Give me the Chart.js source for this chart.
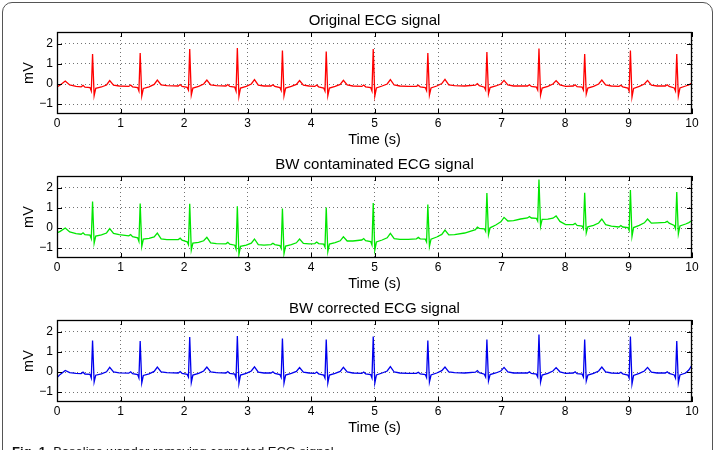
<!DOCTYPE html>
<html>
<head>
<meta charset="utf-8">
<script src="https://cdn.jsdelivr.net/npm/chart.js@4.4.1/dist/chart.umd.min.js"></script>
<style>
  html, body { margin:0; padding:0; background:#fff; }
  body { width:719px; height:450px; overflow:hidden; position:relative; font-family:"Liberation Sans", Arial, sans-serif; }
  canvas { position:absolute; left:0; }
  #frame { position:absolute; left:2px; top:2px; width:711px; height:480px; border:1px solid #555; border-radius:10px; box-sizing:border-box; }
  #caption { position:absolute; left:12px; top:445px; font-size:13px; line-height:13px; color:#111; white-space:nowrap; }
</style>
</head>
<body>
<div id="frame"></div>
<canvas id="c1" width="719" height="150" style="top:0px"></canvas>
<canvas id="c2" width="719" height="150" style="top:144px"></canvas>
<canvas id="c3" width="719" height="150" style="top:288px"></canvas>
<div id="caption"><b>Fig. 1</b>&nbsp; Baseline wander removing corrected ECG signal</div>
<script>
// ---- data ----
const titles = ["Original ECG signal", "BW contaminated ECG signal", "BW corrected ECG signal"];
const xTicks = [0,1,2,3,4,5,6,7,8,9,10];
const yTicks = [-1,0,1,2];

const time = [
0.00,0.05,0.13,0.20,0.30,
0.38,0.41,0.44,0.52,0.54,0.56,0.585,0.61,0.70,0.78,0.83,0.89,0.98,
1.13,1.16,1.19,1.27,1.29,1.31,1.335,1.36,1.45,1.53,1.58,1.64,1.73,
1.91,1.94,1.97,2.05,2.07,2.09,2.115,2.14,2.23,2.31,2.36,2.42,2.51,
2.66,2.69,2.72,2.80,2.82,2.84,2.865,2.89,2.98,3.06,3.11,3.17,3.26,
3.37,3.40,3.43,3.51,3.53,3.55,3.575,3.60,3.69,3.77,3.82,3.88,3.97,
4.06,4.09,4.12,4.20,4.22,4.24,4.265,4.29,4.38,4.46,4.51,4.57,4.66,
4.80,4.83,4.86,4.94,4.96,4.98,5.005,5.03,5.12,5.20,5.25,5.31,5.40,5.53,
5.66,5.69,5.72,5.80,5.82,5.84,5.865,5.89,5.98,6.06,6.11,6.17,6.26,6.42,
6.59,6.62,6.65,6.73,6.75,6.77,6.795,6.82,6.91,6.99,7.04,7.10,7.19,7.30,
7.41,7.44,7.47,7.55,7.57,7.59,7.615,7.64,7.73,7.81,7.86,7.92,8.01,
8.13,8.16,8.19,8.27,8.29,8.31,8.335,8.36,8.45,8.53,8.58,8.64,8.73,
8.85,8.88,8.91,8.99,9.01,9.03,9.055,9.08,9.17,9.25,9.30,9.36,9.45,
9.58,9.61,9.64,9.72,9.74,9.76,9.785,9.81,9.90,9.95,10.00
];

const original = [
-0.15,-0.05,0.15,-0.05,-0.12,
-0.14,-0.07,-0.16,-0.18,-0.35,1.50,-0.58,-0.22,-0.15,-0.05,0.17,-0.06,-0.10,
-0.12,-0.05,-0.14,-0.18,-0.35,1.55,-0.60,-0.22,-0.14,-0.02,0.20,-0.05,-0.08,
-0.10,-0.03,-0.12,-0.17,-0.30,1.75,-0.55,-0.20,-0.12,0.00,0.20,-0.05,-0.08,
-0.10,-0.03,-0.12,-0.16,-0.35,1.80,-0.62,-0.20,-0.12,0.00,0.22,-0.06,-0.10,
-0.10,-0.04,-0.12,-0.18,-0.32,1.67,-0.58,-0.20,-0.12,-0.02,0.17,-0.06,-0.10,
-0.12,-0.05,-0.14,-0.20,-0.35,1.63,-0.58,-0.20,-0.12,-0.02,0.18,-0.05,-0.10,
-0.12,-0.05,-0.14,-0.18,-0.35,1.75,-0.60,-0.20,-0.10,0.00,0.22,-0.05,-0.10,-0.12,
-0.12,-0.06,-0.14,-0.18,-0.33,1.55,-0.55,-0.20,-0.10,0.02,0.23,-0.04,-0.08,-0.10,
-0.06,0.02,-0.08,-0.16,-0.30,1.60,-0.50,-0.18,-0.10,0.00,0.18,-0.05,-0.10,-0.10,
-0.10,-0.04,-0.12,-0.16,-0.30,1.78,-0.55,-0.20,-0.12,0.00,0.17,-0.04,-0.12,
-0.10,-0.04,-0.13,-0.16,-0.30,1.50,-0.50,-0.20,-0.12,0.00,0.20,-0.05,-0.10,
-0.12,-0.06,-0.14,-0.20,-0.35,1.67,-0.65,-0.22,-0.12,0.00,0.18,-0.06,-0.10,
-0.10,-0.04,-0.12,-0.20,-0.35,1.50,-0.60,-0.20,-0.10,-0.04,0.05
];

const contaminated = [
-0.25,-0.17,0.00,-0.20,-0.28,
-0.31,-0.24,-0.33,-0.36,-0.53,1.32,-0.76,-0.40,-0.34,-0.25,-0.03,-0.27,-0.33,
-0.39,-0.33,-0.43,-0.49,-0.67,1.23,-0.93,-0.56,-0.52,-0.45,-0.26,-0.54,-0.58,
-0.58,-0.51,-0.61,-0.69,-0.83,1.21,-1.10,-0.76,-0.72,-0.64,-0.47,-0.74,-0.78,
-0.79,-0.72,-0.81,-0.86,-1.05,1.09,-1.33,-0.92,-0.86,-0.76,-0.55,-0.83,-0.86,
-0.83,-0.76,-0.83,-0.88,-1.02,0.97,-1.28,-0.90,-0.83,-0.74,-0.55,-0.77,-0.79,
-0.78,-0.70,-0.78,-0.81,-0.95,1.03,-1.18,-0.80,-0.73,-0.64,-0.44,-0.65,-0.65,
-0.60,-0.53,-0.63,-0.68,-0.85,1.25,-1.10,-0.70,-0.60,-0.49,-0.27,-0.53,-0.57,-0.57,
-0.54,-0.47,-0.54,-0.56,-0.70,1.18,-0.92,-0.56,-0.45,-0.32,-0.10,-0.34,-0.33,-0.25,
-0.08,0.04,-0.02,-0.04,-0.17,1.75,-0.33,0.01,0.15,0.31,0.53,0.35,0.37,0.45,
0.50,0.57,0.50,0.48,0.35,2.43,0.09,0.43,0.44,0.49,0.60,0.33,0.17,
0.17,0.23,0.13,0.10,-0.04,1.76,-0.24,0.06,0.13,0.25,0.45,0.17,0.09,
0.05,0.12,0.05,0.02,-0.12,1.90,-0.42,0.02,0.13,0.26,0.45,0.24,0.26,
0.28,0.33,0.24,0.13,-0.03,1.80,-0.30,0.10,0.20,0.27,0.37
];

const corrected = [
-0.28,-0.12,0.08,-0.03,-0.07,
-0.08,-0.01,-0.10,-0.12,-0.30,1.58,-0.50,-0.16,-0.09,0.01,0.23,0.00,-0.04,
-0.06,0.01,-0.08,-0.13,-0.30,1.55,-0.55,-0.17,-0.09,0.03,0.25,0.00,-0.03,
-0.05,0.02,-0.07,-0.12,-0.25,1.75,-0.52,-0.15,-0.07,0.05,0.25,0.00,-0.03,
-0.05,0.02,-0.07,-0.11,-0.30,1.80,-0.58,-0.15,-0.07,0.05,0.26,-0.01,-0.05,
-0.05,0.01,-0.07,-0.13,-0.27,1.67,-0.55,-0.15,-0.07,0.03,0.22,-0.01,-0.05,
-0.07,0.00,-0.09,-0.15,-0.30,1.62,-0.55,-0.15,-0.07,0.03,0.23,0.00,-0.05,
-0.07,0.00,-0.09,-0.13,-0.30,1.78,-0.55,-0.15,-0.05,0.05,0.27,0.00,-0.05,-0.07,
-0.07,-0.01,-0.09,-0.13,-0.28,1.58,-0.50,-0.15,-0.05,0.07,0.25,0.01,-0.03,-0.05,
-0.01,0.07,-0.03,-0.11,-0.25,1.63,-0.45,-0.13,-0.05,0.05,0.23,0.00,-0.05,-0.05,
-0.05,0.01,-0.07,-0.11,-0.25,1.88,-0.50,-0.15,-0.07,0.05,0.22,0.01,-0.07,
-0.05,0.01,-0.08,-0.11,-0.25,1.62,-0.45,-0.15,-0.07,0.05,0.25,0.00,-0.05,
-0.07,-0.01,-0.09,-0.15,-0.30,1.78,-0.60,-0.17,-0.07,0.05,0.23,-0.01,-0.05,
-0.05,0.01,-0.07,-0.15,-0.30,1.55,-0.55,-0.15,-0.05,0.10,0.35
];

const seriesColors = ["#ff0000", "#00e600", "#0000ee"];

// ---- chart construction ----
const FONT = '"Liberation Sans", Arial, Helvetica, sans-serif';

const boxPlugin = {
  id: 'matlabBox',
  afterDatasetsDraw(chart) {
    const {ctx, chartArea: a, scales: {x, y}} = chart;
    ctx.save();
    ctx.strokeStyle = '#000';
    ctx.lineWidth = 1;
    ctx.beginPath();
    x.ticks.forEach(t => {
      const px = Math.round(x.getPixelForValue(t.value)) + 0.5;
      ctx.moveTo(px, a.top); ctx.lineTo(px, a.top + 5);
      ctx.moveTo(px, a.bottom); ctx.lineTo(px, a.bottom - 5);
    });
    y.ticks.forEach(t => {
      const py = Math.round(y.getPixelForValue(t.value)) + 0.5;
      ctx.moveTo(a.left, py); ctx.lineTo(a.left + 5, py);
      ctx.moveTo(a.right, py); ctx.lineTo(a.right - 5, py);
    });
    ctx.stroke();
    ctx.lineWidth = 1.3;
    ctx.strokeRect(a.left + 0.5, a.top + 0.5, a.right - a.left - 1, a.bottom - a.top - 1);
    ctx.restore();
  }
};

function makeChart(id, title, values, color) {
  const pts = time.map((t, i) => ({x: t, y: values[i]}));
  return new Chart(document.getElementById(id), {
    type: 'line',
    data: { datasets: [{ data: pts, borderColor: color, borderWidth: 1.3, pointRadius: 0, tension: 0, fill: false }] },
    options: {
      responsive: false,
      animation: false,
      devicePixelRatio: 1,
      layout: { padding: { left: 0, right: 27, top: 0, bottom: 0 } },
      plugins: {
        legend: { display: false },
        tooltip: { enabled: false },
        title: {
          display: true, text: title, fullSize: false, color: '#000',
          font: { family: FONT, size: 15, weight: 'normal', lineHeight: 1.2 },
          padding: { top: 12, bottom: 2 }
        }
      },
      scales: {
        x: {
          type: 'linear', min: 0, max: 10,
          afterBuildTicks: s => { s.ticks = xTicks.map(v => ({value: v})); },
          afterFit: s => { s.height = 36; },
          grid: { color: 'rgba(0,0,0,0.55)', lineWidth: 1, drawTicks: false },
          border: { display: false, dash: [1, 3] },
          ticks: { color: '#000', padding: 2, font: { family: FONT, size: 12 }, maxRotation: 0 },
          title: { display: true, text: 'Time (s)', color: '#000', font: { family: FONT, size: 14.5 }, padding: { top: 0, bottom: 1 } }
        },
        y: {
          type: 'linear', min: -1.5, max: 2.6,
          afterBuildTicks: s => { s.ticks = yTicks.map(v => ({value: v})); },
          afterFit: s => { s.width = 57; },
          grid: { color: 'rgba(0,0,0,0.55)', lineWidth: 1, drawTicks: false },
          border: { display: false, dash: [1, 3] },
          ticks: { color: '#000', padding: 4, font: { family: FONT, size: 12 },
                   callback: v => (v < 0 ? '\u2212' + Math.abs(v) : String(v)) },
          title: { display: true, text: 'mV', color: '#000', font: { family: FONT, size: 14.5 }, padding: { top: 20, bottom: 0 } }
        }
      }
    },
    plugins: [boxPlugin]
  });
}

makeChart('c1', titles[0], original, seriesColors[0]);
makeChart('c2', titles[1], contaminated, seriesColors[1]);
makeChart('c3', titles[2], corrected, seriesColors[2]);
</script>
</body>
</html>
